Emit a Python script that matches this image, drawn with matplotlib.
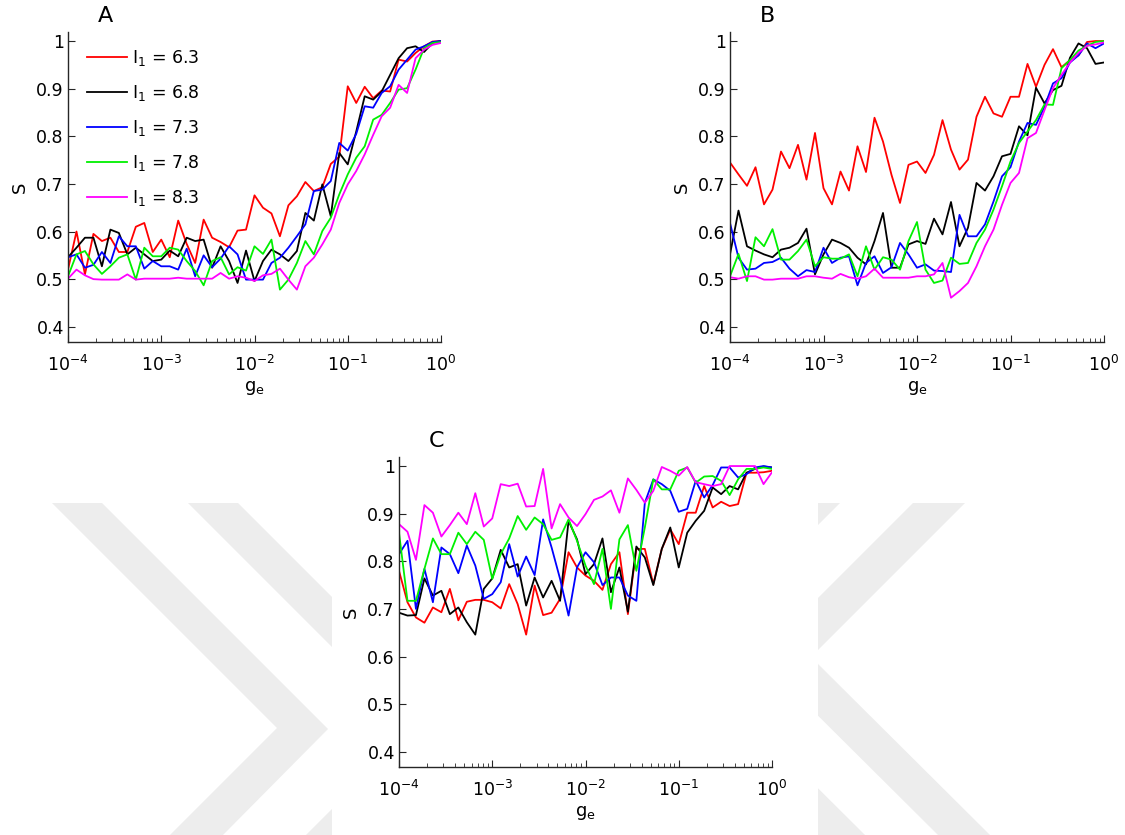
import numpy as np
import matplotlib.pyplot as plt
from matplotlib.patches import Polygon, Rectangle
from matplotlib.ticker import LogLocator, NullFormatter

plt.rcParams['font.family'] = ['DejaVu Sans']
plt.rcParams['mathtext.fontset'] = 'dejavusans'

W, H = 1125, 835

# coupling strength grid (11 steps per decade)
ge = np.logspace(-4, 0, 45)
i1_levels = ['6.3', '6.8', '7.3', '7.8', '8.3']
line_colors = ['#ff0000', '#000000', '#0000ff', '#00f000', '#ff00ff']
y_ticks = [0.4, 0.5, 0.6, 0.7, 0.8, 0.9, 1.0]
y_tick_labels = ['0.4', '0.5', '0.6', '0.7', '0.8', '0.9', '1']

# panel A
a_63 = [0.52, 0.60, 0.51, 0.595, 0.58, 0.587, 0.557, 0.557, 0.61, 0.618,
        0.557, 0.583, 0.546, 0.623, 0.574, 0.534, 0.625, 0.587, 0.578, 0.567,
        0.602, 0.604, 0.676, 0.65, 0.638, 0.59, 0.655, 0.674, 0.704, 0.685,
        0.693, 0.742, 0.757, 0.905, 0.87, 0.904, 0.88, 0.896, 0.894, 0.961,
        0.957, 0.975, 0.989, 0.999, 1.0]
a_68 = [0.546, 0.566, 0.587, 0.587, 0.527, 0.604, 0.597, 0.552, 0.566, 0.552,
        0.538, 0.541, 0.56, 0.548, 0.587, 0.58, 0.583, 0.524, 0.569, 0.538,
        0.492, 0.56, 0.496, 0.538, 0.562, 0.552, 0.538, 0.559, 0.639, 0.623,
        0.699, 0.632, 0.765, 0.741, 0.81, 0.884, 0.877, 0.894, 0.929, 0.964,
        0.985, 0.989, 0.977, 0.996, 1.0]
a_73 = [0.546, 0.552, 0.524, 0.53, 0.557, 0.534, 0.59, 0.569, 0.569, 0.522,
        0.538, 0.527, 0.527, 0.52, 0.564, 0.506, 0.55, 0.525, 0.543, 0.569,
        0.552, 0.499, 0.499, 0.499, 0.534, 0.545, 0.566, 0.59, 0.615, 0.685,
        0.688, 0.706, 0.786, 0.77, 0.805, 0.863, 0.86, 0.891, 0.905, 0.94,
        0.961, 0.982, 0.989, 0.998, 1.0]
a_78 = [0.506, 0.552, 0.559, 0.531, 0.511, 0.527, 0.545, 0.552, 0.499, 0.566,
        0.548, 0.548, 0.566, 0.562, 0.538, 0.517, 0.487, 0.538, 0.546, 0.51,
        0.525, 0.518, 0.569, 0.553, 0.583, 0.478, 0.499, 0.534, 0.58, 0.552,
        0.601, 0.629, 0.678, 0.72, 0.755, 0.779, 0.835, 0.845, 0.87, 0.898,
        0.901, 0.94, 0.985, 0.996, 0.998]
a_83 = [0.501, 0.52, 0.508, 0.5, 0.499, 0.499, 0.499, 0.51, 0.499, 0.501,
        0.501, 0.501, 0.501, 0.503, 0.501, 0.501, 0.501, 0.501, 0.513, 0.501,
        0.506, 0.503, 0.496, 0.508, 0.511, 0.522, 0.499, 0.478, 0.527, 0.545,
        0.573, 0.604, 0.66, 0.699, 0.727, 0.762, 0.803, 0.842, 0.86, 0.908,
        0.891, 0.964, 0.982, 0.992, 0.996]

# panel B
b_63 = [0.745, 0.72, 0.696, 0.735, 0.657, 0.688, 0.768, 0.733, 0.782, 0.709,
        0.807, 0.691, 0.657, 0.726, 0.686, 0.779, 0.725, 0.839, 0.789, 0.719,
        0.66, 0.74, 0.747, 0.723, 0.761, 0.834, 0.772, 0.73, 0.751, 0.841,
        0.883, 0.848, 0.841, 0.883, 0.883, 0.952, 0.904, 0.95, 0.983, 0.945,
        0.96, 0.97, 0.998, 1.0, 1.0]
b_68 = [0.552, 0.644, 0.569, 0.56, 0.552, 0.546, 0.562, 0.566, 0.576, 0.606,
        0.51, 0.552, 0.583, 0.576, 0.566, 0.545, 0.531, 0.58, 0.639, 0.524,
        0.524, 0.573, 0.58, 0.574, 0.627, 0.594, 0.662, 0.569, 0.608, 0.702,
        0.686, 0.716, 0.758, 0.763, 0.821, 0.802, 0.902, 0.869, 0.897, 0.906,
        0.965, 0.995, 0.985, 0.952, 0.955]
b_73 = [0.618, 0.545, 0.52, 0.522, 0.534, 0.536, 0.545, 0.522, 0.506, 0.519,
        0.515, 0.566, 0.534, 0.545, 0.548, 0.487, 0.534, 0.548, 0.513, 0.525,
        0.576, 0.552, 0.524, 0.531, 0.518, 0.517, 0.515, 0.635, 0.59, 0.59,
        0.615, 0.663, 0.716, 0.735, 0.789, 0.828, 0.824, 0.862, 0.911, 0.922,
        0.955, 0.97, 0.995, 0.985, 0.995]
b_78 = [0.506, 0.553, 0.496, 0.588, 0.569, 0.605, 0.541, 0.541, 0.559, 0.583,
        0.527, 0.546, 0.543, 0.543, 0.552, 0.506, 0.569, 0.52, 0.546, 0.541,
        0.52, 0.58, 0.62, 0.52, 0.492, 0.497, 0.545, 0.532, 0.534, 0.576,
        0.604, 0.646, 0.695, 0.747, 0.786, 0.81, 0.834, 0.867, 0.866, 0.943,
        0.96, 0.98, 0.99, 0.998, 1.0]
b_83 = [0.504, 0.501, 0.506, 0.506, 0.499, 0.499, 0.501, 0.501, 0.501, 0.506,
        0.506, 0.503, 0.501, 0.511, 0.504, 0.501, 0.506, 0.522, 0.503, 0.503,
        0.503, 0.503, 0.506, 0.506, 0.51, 0.534, 0.461, 0.475, 0.492, 0.527,
        0.569, 0.604, 0.656, 0.702, 0.723, 0.796, 0.807, 0.855, 0.901, 0.929,
        0.955, 0.975, 0.99, 0.993, 0.997]

# panel C
c_63 = [0.78, 0.714, 0.682, 0.671, 0.703, 0.693, 0.742, 0.676, 0.715, 0.719,
        0.719, 0.714, 0.701, 0.752, 0.71, 0.646, 0.749, 0.687, 0.692, 0.721,
        0.819, 0.787, 0.77, 0.759, 0.74, 0.794, 0.819, 0.689, 0.826, 0.826,
        0.752, 0.826, 0.867, 0.836, 0.902, 0.902, 0.958, 0.913, 0.925, 0.916,
        0.92, 0.986, 0.986, 0.987, 0.99]
c_68 = [0.692, 0.686, 0.687, 0.764, 0.728, 0.738, 0.689, 0.703, 0.672, 0.646,
        0.742, 0.764, 0.824, 0.787, 0.794, 0.707, 0.766, 0.724, 0.759, 0.717,
        0.885, 0.846, 0.773, 0.794, 0.848, 0.735, 0.787, 0.694, 0.831, 0.808,
        0.75, 0.826, 0.871, 0.787, 0.86, 0.885, 0.906, 0.955, 0.941, 0.958,
        0.951, 0.986, 0.994, 0.999, 0.997]
c_73 = [0.815, 0.843, 0.7, 0.784, 0.714, 0.829, 0.815, 0.775, 0.833, 0.791,
        0.721, 0.731, 0.756, 0.836, 0.768, 0.81, 0.771, 0.888, 0.829, 0.763,
        0.686, 0.787, 0.819, 0.798, 0.75, 0.766, 0.766, 0.728, 0.717, 0.923,
        0.972, 0.962, 0.948, 0.904, 0.91, 0.969, 0.934, 0.96, 0.997, 0.997,
        0.976, 0.983, 0.997, 1.0, 0.997]
c_78 = [0.86, 0.717, 0.717, 0.784, 0.848, 0.815, 0.815, 0.86, 0.836, 0.862,
        0.845, 0.763, 0.815, 0.848, 0.895, 0.866, 0.892, 0.878, 0.845, 0.85,
        0.888, 0.843, 0.791, 0.752, 0.826, 0.7, 0.846, 0.876, 0.78, 0.871,
        0.972, 0.951, 0.951, 0.99, 0.997, 0.965, 0.978, 0.979, 0.969, 0.939,
        0.972, 0.994, 0.994, 0.997, 0.994]
c_83 = [0.878, 0.862, 0.803, 0.918, 0.902, 0.852, 0.876, 0.902, 0.878, 0.943,
        0.873, 0.89, 0.962, 0.958, 0.963, 0.915, 0.916, 0.994, 0.869, 0.92,
        0.892, 0.874, 0.899, 0.929, 0.936, 0.949, 0.902, 0.974, 0.95, 0.923,
        0.948, 0.998, 0.99, 0.98, 0.998, 0.966, 0.962, 0.958, 0.962, 1.0,
        1.0, 1.0, 1.0, 0.962, 0.987]

panel_a = [a_63, a_68, a_73, a_78, a_83]
panel_b = [b_63, b_68, b_73, b_78, b_83]
panel_c = [c_63, c_68, c_73, c_78, c_83]


def px_rect(left, top, right, bottom):
    return [left / W, 1 - bottom / H, (right - left) / W, (bottom - top) / H]


def px_points(pts):
    return [(x / W, 1 - y / H) for x, y in pts]


def draw_panel(ax, curves, letter, letter_xy, legend=False):
    for vals, lev, col in zip(curves, i1_levels, line_colors):
        ax.plot(ge, vals, color=col, lw=1.3, label=r'$\mathregular{I_1}$ = ' + lev)
    ax.set_xscale('log')
    ax.set_xlim(1e-4, 1)
    ax.set_ylim(0.368, 1.019)
    ax.set_yticks(y_ticks)
    ax.set_yticklabels(y_tick_labels)
    ax.xaxis.set_minor_locator(LogLocator(base=10, subs=np.arange(2, 10), numticks=20))
    ax.xaxis.set_minor_formatter(NullFormatter())
    ax.spines[['top', 'right']].set_visible(False)
    for s in ['left', 'bottom']:
        ax.spines[s].set_color('#262626')
        ax.spines[s].set_linewidth(1.0)
    ax.tick_params(which='both', direction='in', labelsize=12.5, colors='#262626',
                   labelcolor='black')
    ax.tick_params(which='major', length=5)
    ax.tick_params(which='minor', length=3)
    ax.tick_params(axis='y', which='major', pad=3)
    ax.tick_params(axis='x', which='major', pad=9)
    ax.set_ylabel('S', fontsize=13, labelpad=5)
    ax.set_xlabel(r'$\mathregular{g_e}$', fontsize=13, labelpad=3)
    fig.text(letter_xy[0] / W, 1 - letter_xy[1] / H, letter, fontsize=16,
             ha='center', va='center')
    if legend:
        ax.legend(loc='upper left', bbox_to_anchor=(0.022, 0.985), frameon=False,
                  fontsize=12.5, handlelength=2.3, handletextpad=0.25,
                  labelspacing=0.86, borderaxespad=0.25)


fig = plt.figure(figsize=(W / 100, H / 100), dpi=100)

# faint chevron pattern behind the lower panel
wm_color = '#ededed'
chevrons = [
    [(52, 503), (102, 503), (328, 729), (223, 835), (170, 835), (277, 728)],
    [(188, 503), (238, 503), (464, 729), (359, 835), (306, 835), (413, 728)],
    [(913, 503), (965, 503), (811, 657), (990, 835), (938, 835), (759, 657)],
    [(788, 503), (840, 503), (686, 657), (865, 835), (813, 835), (634, 657)],
]
for pts in chevrons:
    fig.patches.append(Polygon(px_points(pts), closed=True, transform=fig.transFigure,
                               facecolor=wm_color, edgecolor='none', zorder=-3))
fig.patches.append(Rectangle((332 / W, 0), (818 - 332) / W, 1 - 440 / H,
                             transform=fig.transFigure, facecolor='white',
                             edgecolor='none', zorder=-2))

ax_a = fig.add_axes(px_rect(68, 32, 441, 342))
ax_b = fig.add_axes(px_rect(730, 32, 1104, 342))
ax_c = fig.add_axes(px_rect(399, 457, 772, 767))

draw_panel(ax_a, panel_a, 'A', (105, 16), legend=True)
draw_panel(ax_b, panel_b, 'B', (768, 16))
draw_panel(ax_c, panel_c, 'C', (437, 441))

fig.savefig('out.png', dpi=100)
